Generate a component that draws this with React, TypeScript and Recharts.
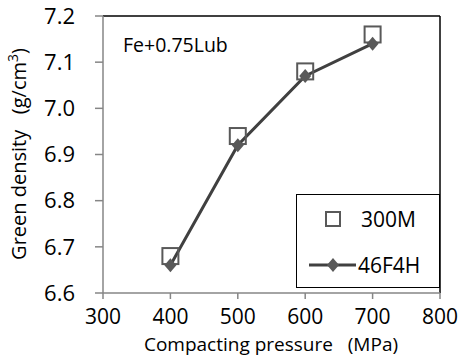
import { ComposedChart, Line, Scatter, XAxis, YAxis, Legend, Label, ReferenceLine } from "recharts";

const pressures = [400, 500, 600, 700];
const density300M = [6.68, 6.94, 7.08, 7.16];
const density46F4H = [6.66, 6.92, 7.07, 7.14];
const xTicks = [300, 400, 500, 600, 700, 800];
const yTicks = [6.6, 6.7, 6.8, 6.9, 7.0, 7.1, 7.2];

const FONT = "'Open Sans', sans-serif";
const MARK = "#595959";
const LINE = "#404040";
const AXIS = "#868686";

const data = pressures.map((p, i) => ({
    pressure: p,
    s300M: density300M[i],
    s46F4H: density46F4H[i],
}));

const Square = (props: any) => {
    const { cx, cy } = props;
    if (cx == null || cy == null) return null;
    return <rect x={cx - 8} y={cy - 8} width={16} height={16} fill="none" stroke={MARK} strokeWidth={2} />;
};

const Diamond = (props: any) => {
    const { cx, cy } = props;
    if (cx == null || cy == null) return null;
    return <path d={`M${cx},${cy - 7}L${cx + 6},${cy}L${cx},${cy + 7}L${cx - 6},${cy}Z`} fill={MARK} />;
};

const LegendBox = () => (
    <svg width={141} height={91} style={{ display: "block" }}>
        <rect x={29} y={17} width={14} height={14} fill="none" stroke={MARK} strokeWidth={2} />
        <text x={64} y={24} dy="0.36em" fontFamily={FONT} fontSize={21} fill="#000">300M</text>
        <line x1={12} x2={59} y1={70} y2={70} stroke={LINE} strokeWidth={3} />
        <path d="M36,63L42,70L36,77L30,70Z" fill={MARK} />
        <text x={61} y={70} dy="0.36em" fontFamily={FONT} fontSize={21} fill="#000">46F4H</text>
    </svg>
);

export default function App() {
    return (
        <div style={{ position: "absolute", left: 0, top: 0, background: "#fff" }}>
            <ComposedChart width={460} height={358} data={data} margin={{ top: 16, right: 20, bottom: 0, left: 0 }}>
                <XAxis
                    type="number"
                    dataKey="pressure"
                    domain={[300, 800]}
                    ticks={xTicks}
                    height={65}
                    stroke={AXIS}
                    strokeWidth={1.5}
                    tickSize={6}
                    tickMargin={10}
                    tick={{ fill: "#000", fontFamily: FONT, fontSize: 21 }}
                >
                    <Label
                        content={() => (
                            <text x={271} y={351} textAnchor="middle" fontFamily={FONT} fontSize={19} fill="#000" style={{ whiteSpace: "pre" }}>
                                Compacting pressure   (MPa)
                            </text>
                        )}
                    />
                </XAxis>
                <YAxis
                    type="number"
                    domain={[6.6, 7.2]}
                    ticks={yTicks}
                    width={103}
                    stroke={AXIS}
                    strokeWidth={1.5}
                    tickSize={8}
                    tickMargin={20}
                    tickFormatter={(v: number) => v.toFixed(1)}
                    tick={{ fill: "#000", fontFamily: FONT, fontSize: 22 }}
                >
                    <Label
                        content={() => (
                            <g>
                                <text
                                    transform="translate(26,154) rotate(-90)"
                                    textAnchor="middle"
                                    fontFamily={FONT}
                                    fontSize={20}
                                    fill="#000"
                                    style={{ whiteSpace: "pre" }}
                                >
                                    Green density   (g/cm<tspan dy={-8} fontSize={14}>3</tspan><tspan dy={8}>)</tspan>
                                </text>
                                <text x={123} y={52} fontFamily={FONT} fontSize={19.5} fill="#000">Fe+0.75Lub</text>
                            </g>
                        )}
                    />
                </YAxis>
                <ReferenceLine y={7.2} stroke="#000" strokeWidth={1.5} />
                <ReferenceLine x={800} stroke="#000" strokeWidth={1.5} />
                <Scatter name="300M" dataKey="s300M" shape={<Square />} isAnimationActive={false} />
                <Line
                    name="46F4H"
                    dataKey="s46F4H"
                    stroke={LINE}
                    strokeWidth={3}
                    dot={<Diamond />}
                    activeDot={false}
                    isAnimationActive={false}
                />
                {/* middle/center alignment keeps the legend from shrinking the plot */}
                <Legend
                    layout="horizontal"
                    verticalAlign="middle"
                    align="center"
                    content={() => <LegendBox />}
                    wrapperStyle={{
                        position: "absolute",
                        left: 296,
                        top: 194,
                        width: 144,
                        height: 94,
                        border: "1.5px solid #000",
                        boxSizing: "border-box",
                        background: "#fff",
                    }}
                />
            </ComposedChart>
        </div>
    );
}
